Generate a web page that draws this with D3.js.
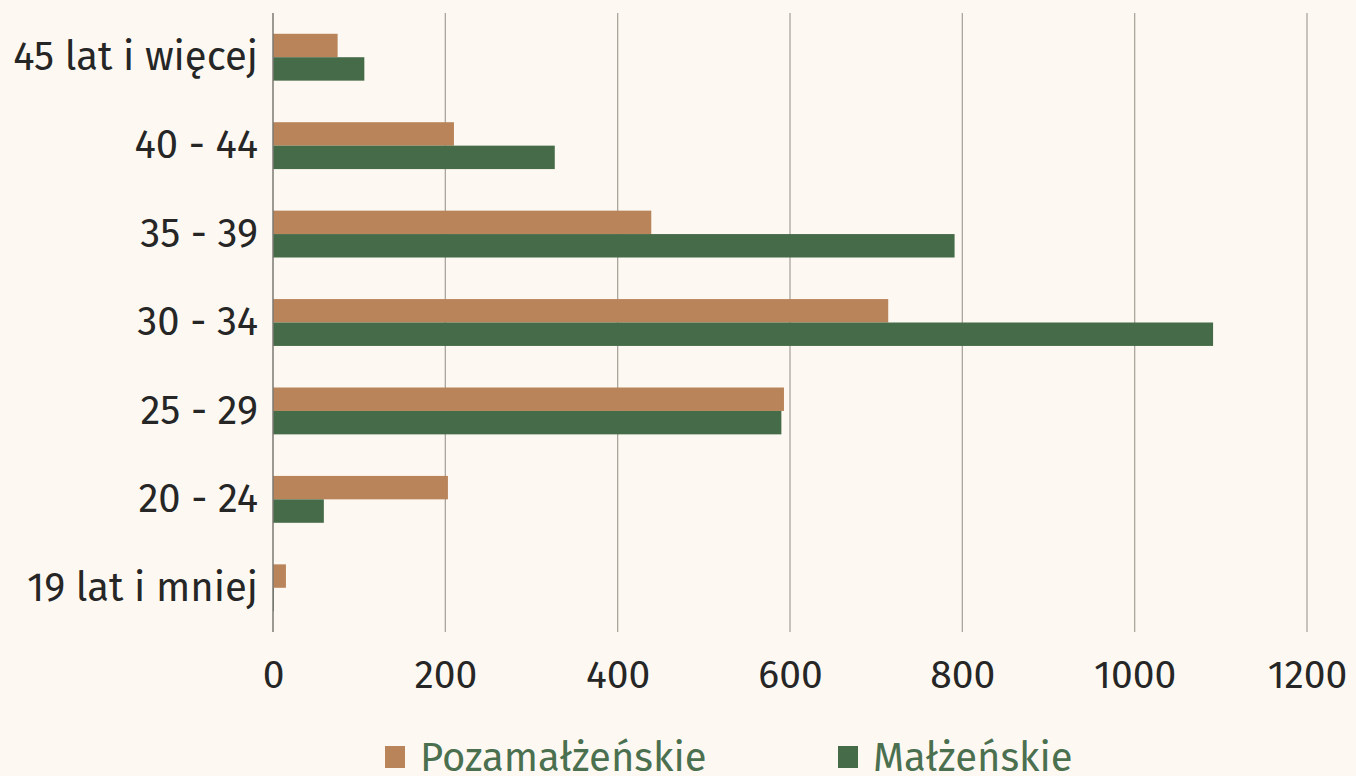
<!DOCTYPE html>
<html>
<head>
<meta charset="utf-8">
<script src="https://cdn.jsdelivr.net/npm/d3@7"></script>
<style>
  body { margin: 0; background: #fdf9f2; }
  svg { display: block; font-family: "Fira Sans", "Noto Sans", "Open Sans", sans-serif; }
</style>
</head>
<body>
<div id="chart"></div>
<script>
// age groups, top to bottom
const categories = ["45 lat i więcej", "40 - 44", "35 - 39", "30 - 34", "25 - 29", "20 - 24", "19 lat i mniej"]
const seriesNames = ["Pozamałżeńskie", "Małżeńskie"]
const pozamalzenskie = [75, 210, 439, 714, 593, 203, 15]
const malzenskie = [106, 327, 791, 1091, 590, 59, 1]
const xTicks = [0, 200, 400, 600, 800, 1000, 1200]
const colors = ["#b9845a", "#466b48"]

const width = 1356
const height = 776
const margin = { top: 13, left: 273, bottom: 144, right: 49 }
const iwidth = width - margin.left - margin.right
const iheight = height - margin.top - margin.bottom

const svg = d3.select("#chart").append("svg")
    .attr("width", width)
    .attr("height", height)

svg.append("rect").attr("width", width).attr("height", height).attr("fill", "#fdf9f2")

const g = svg.append("g").attr("transform", `translate(${margin.left},${margin.top})`)

const x = d3.scaleLinear().domain([0, 1200]).range([0, iwidth])

const y = d3.scaleBand()
    .domain(categories)
    .range([0, iheight])
    .paddingInner(0.47)
    .paddingOuter(0.235)

const ySub = d3.scaleBand().domain(seriesNames).range([0, y.bandwidth()])

// grid
g.selectAll("line.grid").data(xTicks.slice(1)).enter().append("line")
    .attr("class", "grid")
    .attr("x1", d => x(d)).attr("x2", d => x(d))
    .attr("y1", 0).attr("y2", iheight)
    .attr("stroke", "#aaa69e").attr("stroke-width", 1.3)

const rows = categories.map((c, i) => ({ cat: c, vals: [pozamalzenskie[i], malzenskie[i]] }))

const grp = g.selectAll("g.row").data(rows).enter().append("g")
    .attr("transform", d => `translate(0,${y(d.cat)})`)

grp.selectAll("rect").data(d => d.vals.map((v, j) => ({ v, s: seriesNames[j], c: colors[j] })))
    .enter().append("rect")
    .attr("x", 0)
    .attr("y", d => ySub(d.s))
    .attr("width", d => x(d.v))
    .attr("height", ySub.bandwidth())
    .attr("fill", d => d.c)

// baseline
g.append("line")
    .attr("x1", 0).attr("x2", 0).attr("y1", 0).attr("y2", iheight)
    .attr("stroke", "#7b7873").attr("stroke-width", 1.5)

// y axis labels
const yAxis = g.append("g").call(d3.axisLeft(y).tickSize(0).tickPadding(15))
yAxis.select(".domain").remove()
yAxis.selectAll("text")
    .attr("font-size", 40).attr("fill", "#262626")
    .attr("font-family", "'Fira Sans', 'Noto Sans', sans-serif")

// x axis labels
const xAxis = g.append("g")
    .attr("transform", `translate(0,${iheight})`)
    .call(d3.axisBottom(x).tickValues(xTicks).tickFormat(d3.format("d")).tickSize(0).tickPadding(28))
xAxis.select(".domain").remove()
xAxis.selectAll("text")
    .attr("font-size", 39).attr("fill", "#262626")
    .attr("font-family", "'Fira Sans', 'Noto Sans', sans-serif")

// legend
const legendX = [385, 838]
const legend = svg.selectAll("g.legend").data(seriesNames).enter().append("g")
    .attr("transform", (d, i) => `translate(${legendX[i]},${746})`)
legend.append("rect").attr("width", 20).attr("height", 22).attr("fill", (d, i) => colors[i])
legend.append("text")
    .attr("x", 35).attr("y", 11).attr("dy", "0.35em")
    .attr("font-size", 40).attr("fill", "#4b7050")
    .text(d => d)
</script>
</body>
</html>
